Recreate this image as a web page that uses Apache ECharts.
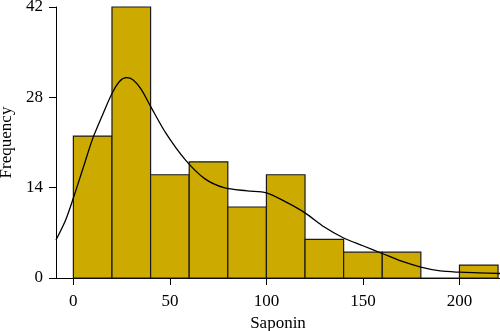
<!DOCTYPE html>
<html><head><meta charset="utf-8">
<script src="https://cdn.jsdelivr.net/npm/echarts@6/dist/echarts.min.js"></script>
<style>html,body{margin:0;padding:0;background:#fff}#c{width:500px;height:331px}</style>
</head><body><div id="c"></div>
<script>
// Histogram bins (Saponin), width 20
const binStarts = [0, 20, 40, 60, 80, 100, 120, 140, 160, 180, 200];
const binWidth = 20;
const counts = [22, 42, 16, 18, 11, 16, 6, 4, 4, 0, 2];
// Density curve scaled to frequency
const curveX = [-9, -4, 0, 5, 10, 15, 20, 24, 27.5, 31, 35, 40, 48, 58, 68, 78, 90, 100, 110, 120, 130, 140, 150, 160, 170, 180, 190, 200, 210, 221];
const curveY = [5.9, 9.0, 12.4, 17, 21.6, 25.2, 28.6, 30.5, 31.05, 30.7, 29.3, 26.6, 22.4, 18.3, 15.4, 14.0, 13.5, 13.2, 11.8, 10.1, 7.9, 6.2, 5.0, 3.8, 2.6, 1.7, 1.1, 0.9, 0.8, 0.7];
const xTicks = [0, 50, 100, 150, 200];

const font = '"Liberation Serif", "DejaVu Serif", serif';
const chart = echarts.init(document.getElementById('c'), null, {renderer: 'canvas'});
chart.setOption({
  animation: false,
  grid: {left: 56, right: 0, top: 7, bottom: 53, containLabel: false, outerBoundsMode: 'none'},
  xAxis: {
    type: 'value', min: -9, max: 221,
    name: 'Saponin', nameLocation: 'middle', nameGap: 32,
    nameTextStyle: {fontFamily: font, fontSize: 17, color: '#000'},
    axisLine: {show: true, onZero: false, lineStyle: {color: '#000', width: 1}},
    axisTick: {show: true, length: 7, customValues: xTicks, lineStyle: {color: '#000'}},
    axisLabel: {customValues: xTicks, fontFamily: font, fontSize: 17, color: '#000', margin: 15},
    splitLine: {show: false}
  },
  yAxis: {
    type: 'value', min: 0, max: 42, interval: 14,
    name: 'Frequency', nameLocation: 'middle', nameGap: 32, nameRotate: 90,
    nameTextStyle: {fontFamily: font, fontSize: 17, color: '#000'},
    axisLine: {show: true, onZero: false, lineStyle: {color: '#000', width: 1}},
    axisTick: {show: true, length: 7, lineStyle: {color: '#000'}},
    axisLabel: {fontFamily: font, fontSize: 17, color: '#000', margin: 13},
    splitLine: {show: false}
  },
  series: [{
    type: 'custom',
    data: binStarts.map((s, i) => [s, s + binWidth, counts[i]]),
    renderItem: function (params, api) {
      const p0 = api.coord([api.value(0), 0]);
      const p1 = api.coord([api.value(1), api.value(2)]);
      return {
        type: 'rect',
        shape: {x: p0[0], y: p1[1], width: p1[0] - p0[0], height: p0[1] - p1[1]},
        style: {fill: '#CCAA00', stroke: '#1a1a1a', lineWidth: 1.2}
      };
    },
    encode: {x: [0, 1], y: 2},
    z: 2
  }, {
    type: 'line',
    data: curveX.map((x, i) => [x, curveY[i]]),
    smooth: 0.3,
    showSymbol: false,
    lineStyle: {color: '#000', width: 1.3},
    z: 3
  }]
});
</script></body></html>
